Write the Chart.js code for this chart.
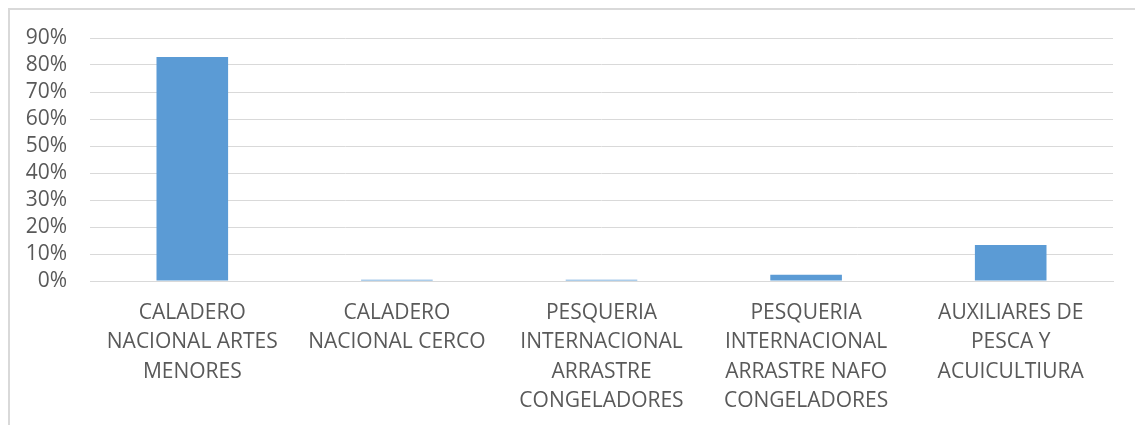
<!DOCTYPE html>
<html>
<head>
<meta charset="utf-8">
<script src="https://cdn.jsdelivr.net/npm/chart.js@4.4.0/dist/chart.umd.min.js"></script>
<style>
    html, body { margin: 0; padding: 0; background: #fff; overflow: hidden; }
    #marco { position: absolute; left: 8px; top: 8px; width: 1200px; height: 500px; border: 2px solid #d9d9d9; }
    #contenedor { position: absolute; left: 0; top: 0; width: 1135px; height: 425px; }
</style>
</head>
<body>
<div id="marco"></div>
<div id="contenedor"><canvas id="grafico"></canvas></div>
<script>
// categorias (cada una partida en lineas como en el original)
var categorias = [
    ["CALADERO", "NACIONAL ARTES", "MENORES"],
    ["CALADERO", "NACIONAL CERCO"],
    ["PESQUERIA", "INTERNACIONAL", "ARRASTRE", "CONGELADORES"],
    ["PESQUERIA", "INTERNACIONAL", "ARRASTRE NAFO", "CONGELADORES"],
    ["AUXILIARES DE", "PESCA Y", "ACUICULTIURA"]
];
var porcentajes = [0.83, 0.005, 0.005, 0.023, 0.133];
var ejeYMax = 0.9;
var ejeYPaso = 0.1;

var fuente = { family: "'Open Sans', sans-serif", size: 21, lineHeight: '29.5px' };

var grafico = new Chart(document.getElementById("grafico").getContext('2d'), {
    type: 'bar',
    data: {
        labels: categorias,
        datasets: [{
            label: 'Porcentaje',
            data: porcentajes,
            backgroundColor: '#5b9bd5',
            borderWidth: 0,
            barPercentage: 0.35,
            categoryPercentage: 1
        }]
    },
    options: {
        responsive: true,
        maintainAspectRatio: false,
        animation: false,
        layout: { padding: { top: 38, right: 22, left: 0, bottom: 0 } },
        plugins: {
            legend: { display: false },
            tooltip: { enabled: false }
        },
        scales: {
            x: {
                grid: { display: false },
                border: { display: true, color: '#d9d9d9', width: 1 },
                ticks: {
                    color: '#595959',
                    font: fuente,
                    maxRotation: 0,
                    autoSkip: false,
                    padding: 9
                },
                afterFit: function (escala) { escala.height = 144; }
            },
            y: {
                min: 0,
                max: ejeYMax,
                grid: { color: '#d9d9d9', lineWidth: 1, drawTicks: false },
                border: { display: false },
                ticks: {
                    stepSize: ejeYPaso,
                    autoSkip: false,
                    color: '#595959',
                    font: { family: fuente.family, size: 21 },
                    padding: 23,
                    callback: function (valor) { return Math.round(valor * 100) + '%'; }
                },
                afterFit: function (escala) { escala.width = 90; }
            }
        }
    }
});
</script>
</body>
</html>
